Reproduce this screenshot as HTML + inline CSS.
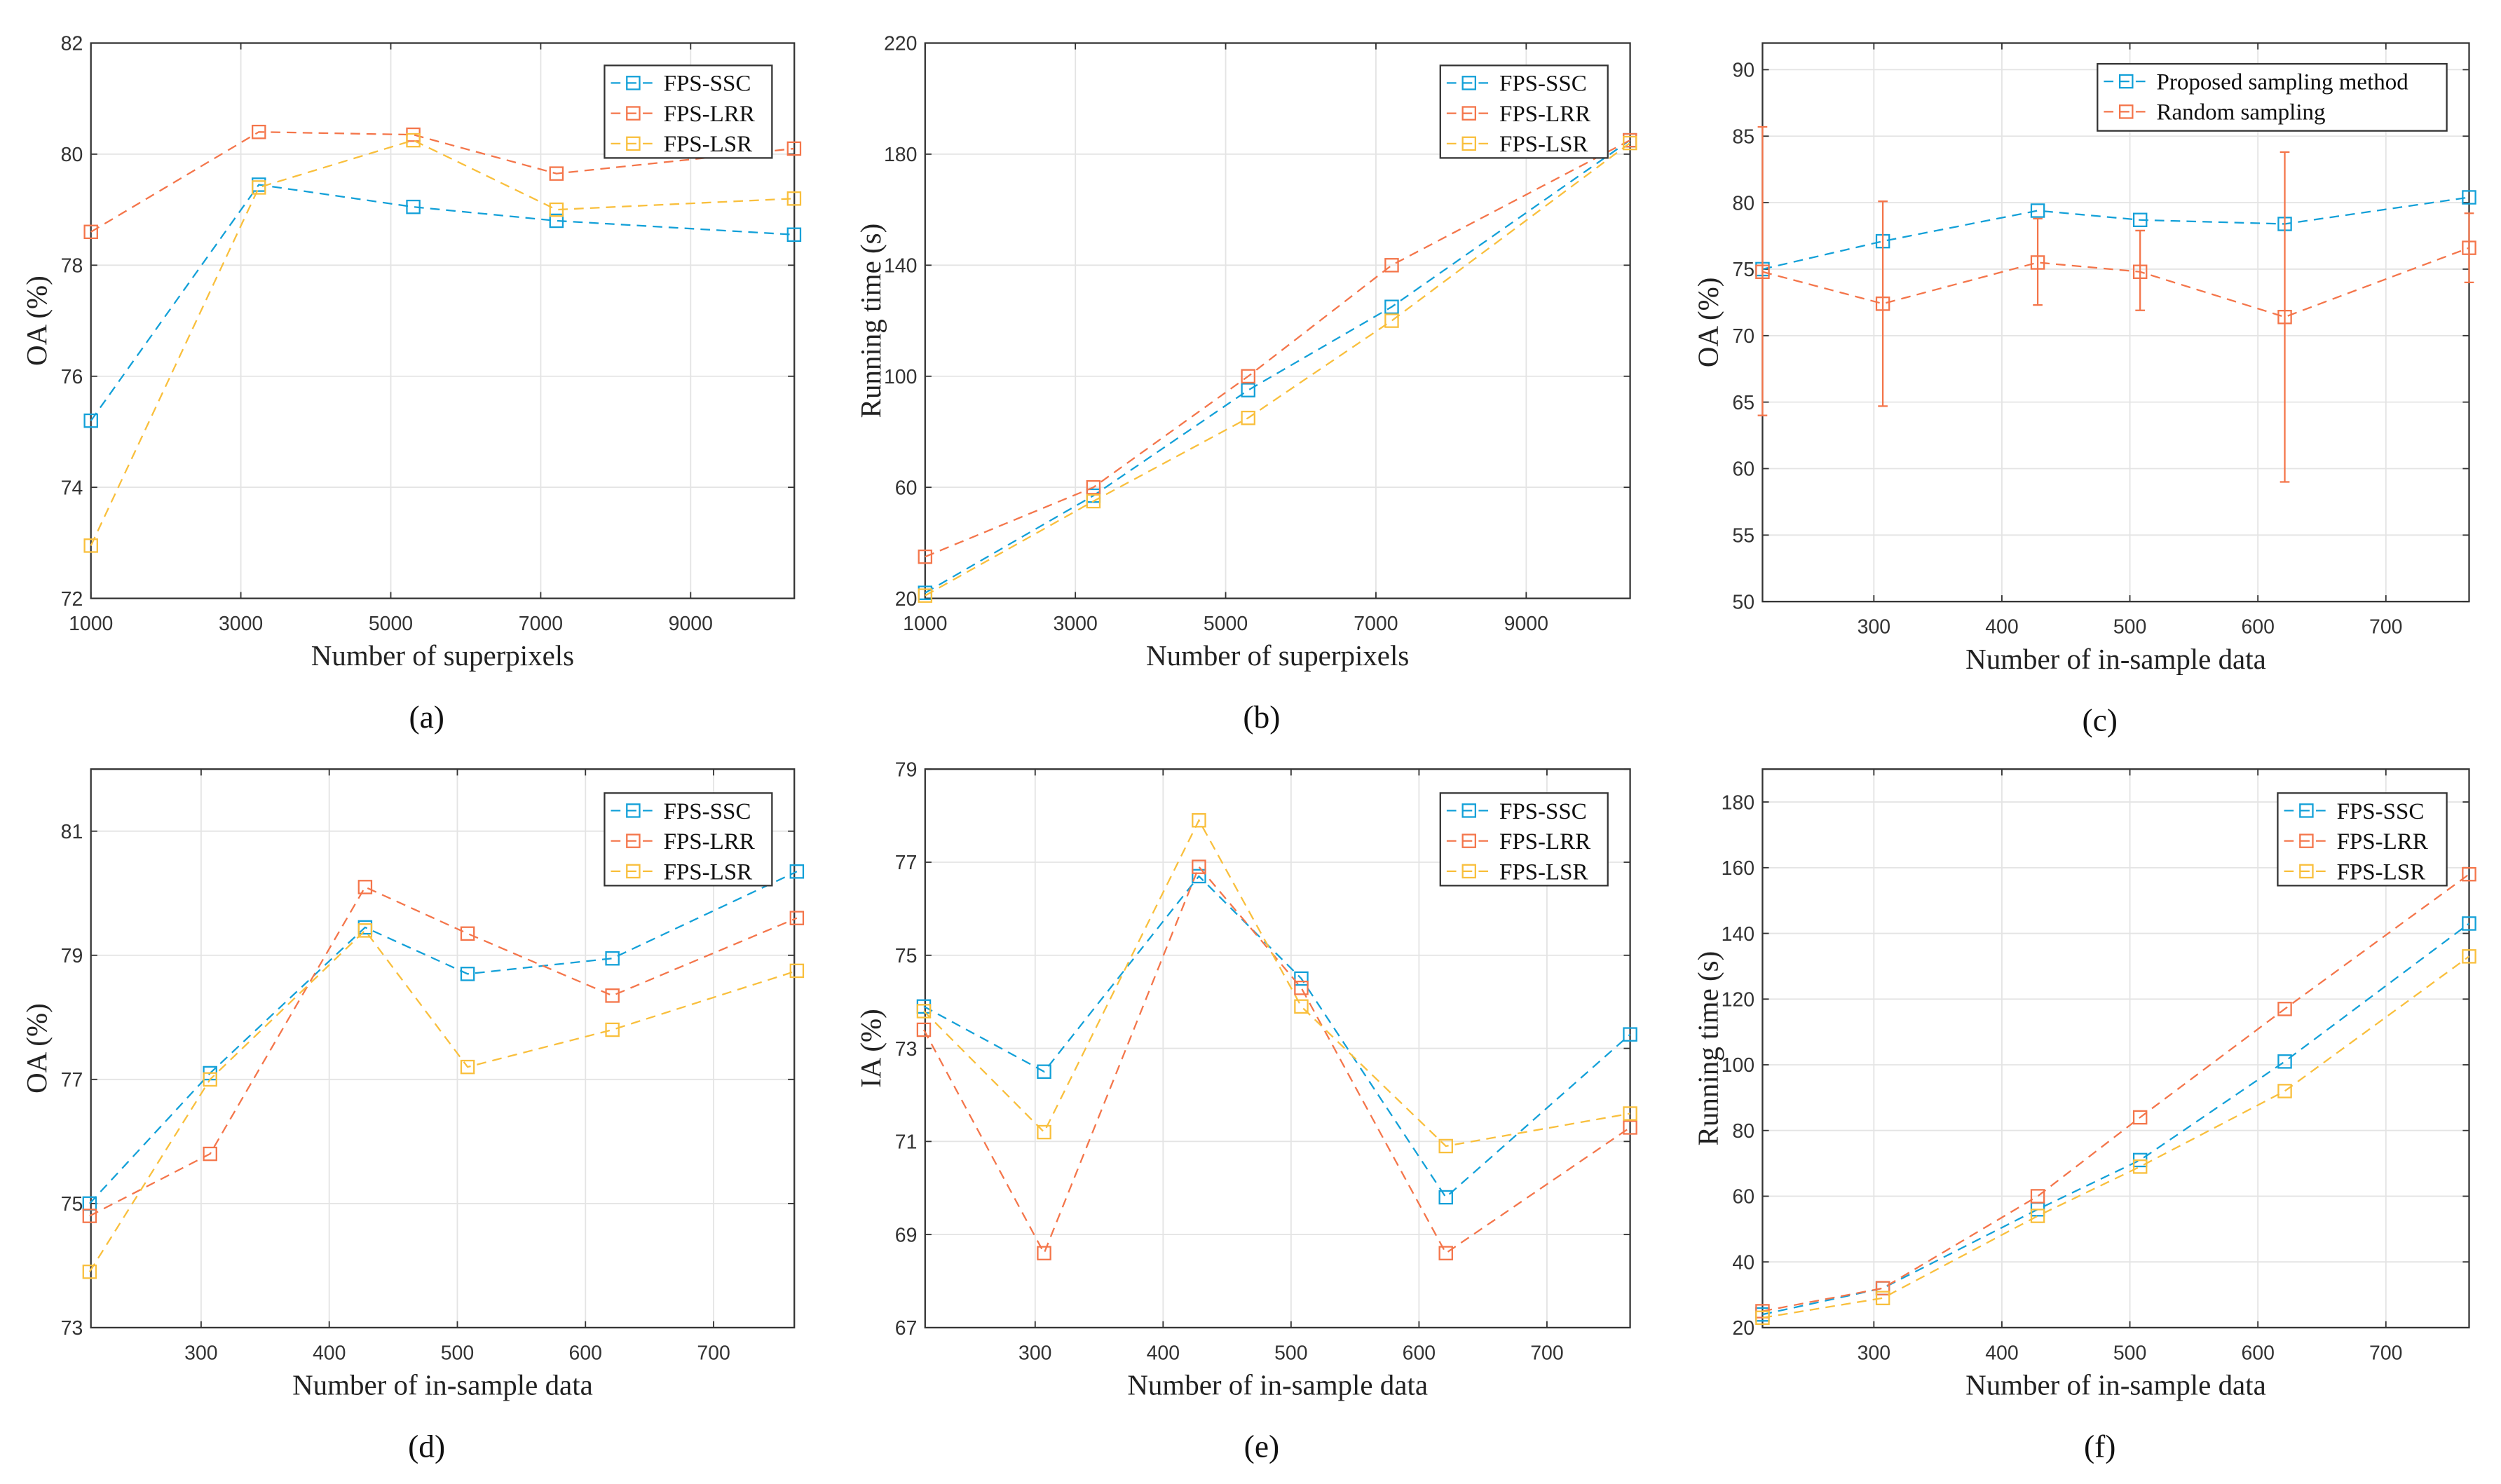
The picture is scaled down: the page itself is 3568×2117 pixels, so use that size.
<!DOCTYPE html>
<html><head><meta charset="utf-8">
<style>
html,body{margin:0;padding:0;background:#fff;}
svg{display:block;}
.tick{font-family:"Liberation Sans",sans-serif;font-size:12.5px;fill:#333;}
.lab{font-family:"Liberation Serif",serif;font-size:18px;fill:#222;}
.leg{font-family:"Liberation Serif",serif;font-size:14.5px;fill:#111;}
.pl{font-family:"Liberation Serif",serif;font-size:20px;fill:#111;}
</style></head>
<body>
<svg id="fig" width="3568" height="2117" viewBox="0 0 1568 930" preserveAspectRatio="none" xmlns="http://www.w3.org/2000/svg"></svg>
<script>
// ---- data ----
const superpixels = [1000, 3240, 5300, 7210, 10380];
const insample = [213, 307, 428, 508, 621, 765];
const aSSC = [75.2, 79.45, 79.05, 78.8, 78.55];
const aLRR = [78.6, 80.4, 80.35, 79.65, 80.1];
const aLSR = [72.95, 79.4, 80.25, 79.0, 79.2];
const bSSC = [22, 57, 95, 125, 185];
const bLRR = [35, 60, 100, 140, 185];
const bLSR = [21, 55, 85, 120, 184];
const cProposed = [75, 77.1, 79.4, 78.7, 78.4, 80.4];
const cRandom = [74.8, 72.4, 75.5, 74.8, 71.4, 76.6];
const cRandomLow = [64, 64.7, 72.3, 71.9, 59, 74];
const cRandomHigh = [85.7, 80.1, 78.8, 77.9, 83.8, 79.2];
const dSSC = [75.0, 77.1, 79.45, 78.7, 78.95, 80.35];
const dLRR = [74.8, 75.8, 80.1, 79.35, 78.35, 79.6];
const dLSR = [73.9, 77.0, 79.4, 77.2, 77.8, 78.75];
const eSSC = [73.9, 72.5, 76.7, 74.5, 69.8, 73.3];
const eLRR = [73.4, 68.6, 76.9, 74.3, 68.6, 71.3];
const eLSR = [73.8, 71.2, 77.9, 73.9, 70.9, 71.6];
const fSSC = [24, 32, 56, 71, 101, 143];
const fLRR = [25, 32, 60, 84, 117, 158];
const fLSR = [23, 29, 54, 69, 92, 133];
const ticksSP = [1000, 3000, 5000, 7000, 9000];
const ticksIS = [300, 400, 500, 600, 700];
const seriesNames = ["FPS-SSC", "FPS-LRR", "FPS-LSR"];

const BLUE = "#12a0d8", ORANGE = "#f4754a", YELLOW = "#f9bf3c";
const NS = "http://www.w3.org/2000/svg";
const svg = document.getElementById("fig");
function mk(tag, attrs, parent) {
  const e = document.createElementNS(NS, tag);
  for (const k in attrs) e.setAttribute(k, attrs[k]);
  (parent || svg).appendChild(e);
  return e;
}

function panel(opt) {
  const g = mk("g", {});
  
  
  const L = opt.box[0], R = opt.box[1], T = opt.box[2], B = opt.box[3];
  const sx = v => L + (v - opt.xr[0]) / (opt.xr[1] - opt.xr[0]) * (R - L);
  const sy = v => B - (v - opt.yr[0]) / (opt.yr[1] - opt.yr[0]) * (B - T);
  // grid
  opt.xt.forEach(t => {
    const x = sx(t);
    const ln = mk("line", {x1: x, x2: x, y1: T, y2: B, stroke: "#e4e4e4", "stroke-width": 0.8}, g);
    
    
    mk("line", {x1: x, x2: x, y1: B, y2: B - 4, stroke: "#333", "stroke-width": 0.8}, g);
    mk("line", {x1: x, x2: x, y1: T, y2: T + 4, stroke: "#333", "stroke-width": 0.8}, g);
    const tx = mk("text", {x: x, y: B + 20, "text-anchor": "middle", class: "tick"}, g);
    tx.textContent = t;
    
    
  });
  opt.yt.forEach(t => {
    const y = sy(t);
    const ln = mk("line", {x1: L, x2: R, y1: y, y2: y, stroke: "#e4e4e4", "stroke-width": 0.8}, g);
    
    
    mk("line", {x1: L, x2: L + 4, y1: y, y2: y, stroke: "#333", "stroke-width": 0.8}, g);
    mk("line", {x1: R, x2: R - 4, y1: y, y2: y, stroke: "#333", "stroke-width": 0.8}, g);
    const tx = mk("text", {x: L - 5, y: y + 4.5, "text-anchor": "end", class: "tick"}, g);
    tx.textContent = t;
    
    
  });
  const box = mk("rect", {x: L, y: T, width: R - L, height: B - T, fill: "none", stroke: "#333", "stroke-width": 1}, g);
  
  
  // series
  opt.series.forEach(s => {
    const sg = mk("g", {}, g);
    
    
    if (s.lo) {
      s.lo.forEach((lo, i) => {
        const x = sx(opt.xs[i]);
        const eb = mk("path", {d: `M${x},${sy(lo)}V${sy(s.hi[i])}M${x-3},${sy(lo)}H${x+3}M${x-3},${sy(s.hi[i])}H${x+3}`, stroke: s.c, "stroke-width": 1, fill: "none"}, sg);
        
        
      });
    }
    const pts = s.v.map((v, i) => sx(opt.xs[i]) + "," + sy(v)).join(" ");
    const pl = mk("polyline", {points: pts, fill: "none", stroke: s.c, "stroke-width": 1, "stroke-dasharray": "6,4"}, sg);
    
    
    s.v.forEach((v, i) => {
      const m = mk("rect", {x: sx(opt.xs[i]) - 4, y: sy(v) - 4, width: 8, height: 8, fill: "none", stroke: s.c, "stroke-width": 1}, sg);
      
      
    });
  });
  // legend
  const lg = mk("g", {}, g);
  
  
  const lb = opt.leg;
  mk("rect", {x: lb[0], y: lb[1], width: lb[2], height: lb[3], fill: "#fff", stroke: "#333", "stroke-width": 1}, lg);
  opt.series.forEach((s, i) => {
    const y = lb[1] + 11 + i * 19;
    const e = mk("g", {}, lg);
    
    
    mk("line", {x1: lb[0] + 4, x2: lb[0] + 32, y1: y, y2: y, stroke: s.c, "stroke-width": 1, "stroke-dasharray": "6,4"}, e);
    mk("rect", {x: lb[0] + 14, y: y - 4, width: 8, height: 8, fill: "none", stroke: s.c}, e);
    const t = mk("text", {x: lb[0] + 37, y: y + 5, class: "leg"}, e);
    t.textContent = s.name;
  });
  // labels
  const xl = mk("text", {x: (L + R) / 2, y: B + 42, "text-anchor": "middle", class: "lab"}, g);
  xl.textContent = opt.xlabel;
  
  
  const yx = L - 28, yy = (T + B) / 2;
  const yl = mk("text", {x: yx, y: yy, "text-anchor": "middle", class: "lab", transform: `rotate(-90 ${yx} ${yy})`}, g);
  yl.textContent = opt.ylabel;
  
  
  const pl = mk("text", {x: (L + R) / 2 - 10, y: B + 81, "text-anchor": "middle", class: "pl"}, g);
  pl.textContent = opt.letter;
  
  
}

const sp3 = (a, b, c) => [{name: seriesNames[0], v: a, c: BLUE}, {name: seriesNames[1], v: b, c: ORANGE}, {name: seriesNames[2], v: c, c: YELLOW}];
const range = (a, b, s) => { const r = []; for (let v = a; v <= b + 1e-9; v += s) r.push(v); return r; };

panel({name: "panel-a", box: [57, 498, 27, 375], xr: [1000, 10383], yr: [72, 82], xs: superpixels, xt: ticksSP, yt: range(72, 82, 2),
  series: sp3(aSSC, aLRR, aLSR), leg: [379, 41, 105, 58], xlabel: "Number of superpixels", ylabel: "OA (%)", letter: "(a)"});
panel({name: "panel-b", box: [580, 1022, 27, 375], xr: [1000, 10383], yr: [20, 220], xs: superpixels, xt: ticksSP, yt: range(20, 220, 40),
  series: sp3(bSSC, bLRR, bLSR), leg: [903, 41, 105, 58], xlabel: "Number of superpixels", ylabel: "Running time (s)", letter: "(b)"});
panel({name: "panel-c", box: [1105, 1548, 27, 377], xr: [213, 765], yr: [50, 92], xs: insample, xt: ticksIS, yt: range(50, 90, 5),
  series: [{name: "Proposed sampling method", v: cProposed, c: BLUE}, {name: "Random sampling", v: cRandom, c: ORANGE, lo: cRandomLow, hi: cRandomHigh}],
  leg: [1315, 40, 219, 42], xlabel: "Number of in-sample data", ylabel: "OA (%)", letter: "(c)"});
panel({name: "panel-d", box: [57, 498, 482, 832], xr: [214, 763], yr: [73, 82], xs: insample, xt: ticksIS, yt: range(73, 81, 2),
  series: sp3(dSSC, dLRR, dLSR), leg: [379, 497, 105, 58], xlabel: "Number of in-sample data", ylabel: "OA (%)", letter: "(d)"});
panel({name: "panel-e", box: [580, 1022, 482, 832], xr: [214, 765], yr: [67, 79], xs: insample, xt: ticksIS, yt: range(67, 79, 2),
  series: sp3(eSSC, eLRR, eLSR), leg: [903, 497, 105, 58], xlabel: "Number of in-sample data", ylabel: "IA (%)", letter: "(e)"});
panel({name: "panel-f", box: [1105, 1548, 482, 832], xr: [213, 765], yr: [20, 190], xs: insample, xt: ticksIS, yt: range(20, 180, 20),
  series: sp3(fSSC, fLRR, fLSR), leg: [1428, 497, 106, 58], xlabel: "Number of in-sample data", ylabel: "Running time (s)", letter: "(f)"});
</script>
</body></html>
